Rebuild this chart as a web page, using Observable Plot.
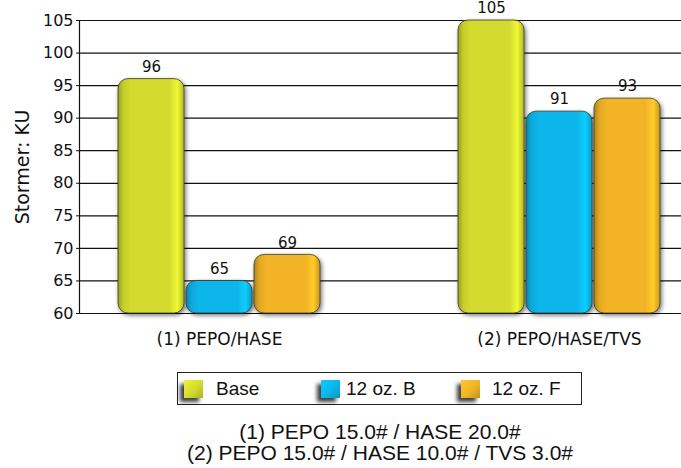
<!DOCTYPE html>
<html>
<head>
<meta charset="utf-8">
<script src="https://cdn.jsdelivr.net/npm/d3@7"></script>
<script src="https://cdn.jsdelivr.net/npm/@observablehq/plot@0.6"></script>
<style>
  html, body { margin: 0; padding: 0; background: #fff; }
  body { width: 681px; height: 468px; position: relative; overflow: hidden; font-family: "Liberation Sans", Arial, sans-serif; color: #111; }
  #chart { position: absolute; left: 0; top: 0; }
  .legend { position: absolute; left: 177px; top: 372px; width: 403px; height: 31px; border: 1.5px solid #222; box-sizing: content-box; }
  .item { position: absolute; top: 0; height: 31px; display: flex; align-items: center; font-size: 19px; }
  .sw { width: 19px; height: 18px; box-shadow: -4px 4px 4px rgba(0,0,0,0.75); }
  .caption { position: absolute; left: 180px; top: 421px; width: 400px; text-align: center; font-size: 21px; line-height: 21px; }
</style>
</head>
<body>
<div id="chart"></div>
<div class="legend" id="legend"></div>
<div class="caption" id="caption"></div>
<script>
const groups = ["(1) PEPO/HASE", "(2) PEPO/HASE/TVS"];
const series = ["Base", "12 oz. B", "12 oz. F"];
const base = [96, 105];
const oz12B = [65, 91];
const oz12F = [69, 93];
const colors = ["#d3dc2e", "#0cb6ea", "#f2b425"];
const yDomain = [60, 105];
const yTicks = [60, 65, 70, 75, 80, 85, 90, 95, 100, 105];
const captionLines = ["(1) PEPO 15.0# / HASE 20.0#", "(2) PEPO 15.0# / HASE 10.0# / TVS 3.0#"];

const values = [base, oz12B, oz12F];
const data = groups.flatMap((g, gi) => series.map((s, si) => ({
  group: g, series: s, value: values[si][gi], key: gi + "|" + s
})));
const gapSlots = ["gap a", "gap b"];
const xDomain = [...series.map(s => "0|" + s), ...gapSlots, ...series.map(s => "1|" + s)];
const gradIds = series.map((s, i) => "grad" + i);
const svgFont = "'DejaVu Sans', sans-serif";

const plot = Plot.plot({
  width: 681,
  height: 350,
  marginLeft: 79,
  marginRight: 0,
  marginTop: 20,
  marginBottom: 37,
  style: { fontFamily: svgFont, color: "#111", background: "transparent" },
  x: { type: "band", domain: xDomain, range: [118, 660], paddingInner: 0.03, paddingOuter: 0, axis: null },
  y: { domain: yDomain },
  color: { domain: series, range: gradIds.map(id => `url(#${id})`) },
  marks: [
    Plot.ruleY(yTicks, { stroke: "#111", strokeWidth: 1.2 }),
    Plot.axisY({ ticks: yTicks, tickSize: 3, tickPadding: 3, fontSize: 16, stroke: "#111", label: "Stormer: KU", labelAnchor: "center", labelOffset: 64, labelArrow: "none" }),
    Plot.frame({ anchor: "left", stroke: "#111", strokeWidth: 1.2 }),
    Plot.axisX({ ticks: ["0|12 oz. B", "1|12 oz. B"], tickFormat: k => groups[+k[0]], tickSize: 0, tickPadding: 19, fontSize: 17, label: null }),
    Plot.barY(data, { x: "key", y1: yDomain[0], y2: "value", fill: "series", rx: 10, stroke: "#3a3a2a", strokeWidth: 0.8 }),
    Plot.text(data, { x: "key", y: "value", text: d => String(d.value), dy: -12, fontSize: 15, fill: "#111" })
  ]
});

// y-axis title size
plot.querySelectorAll('g[aria-label="y-axis label"] text, g[aria-label="y-axis label"]').forEach(el => el.setAttribute("font-size", "19"));

// gradients and shadow
const ns = "http://www.w3.org/2000/svg";
const defs = document.createElementNS(ns, "defs");
colors.forEach((c, i) => {
  const g = document.createElementNS(ns, "linearGradient");
  g.setAttribute("id", gradIds[i]);
  g.setAttribute("x1", "0"); g.setAttribute("x2", "1"); g.setAttribute("y1", "0"); g.setAttribute("y2", "0");
  const stops = [
    [0, d3.color(c).darker(0.9)],
    [0.08, d3.color(c).darker(0.2)],
    [0.2, d3.color(c)],
    [0.78, d3.color(c)],
    [0.9, d3.color(c).brighter(0.35)],
    [1, d3.color(c).darker(0.5)]
  ];
  stops.forEach(([o, col]) => {
    const st = document.createElementNS(ns, "stop");
    st.setAttribute("offset", o);
    st.setAttribute("stop-color", col.formatHex());
    g.appendChild(st);
  });
  defs.appendChild(g);
});
const filt = document.createElementNS(ns, "filter");
filt.setAttribute("id", "shadow");
filt.setAttribute("x", "-20%"); filt.setAttribute("y", "-10%"); filt.setAttribute("width", "140%"); filt.setAttribute("height", "120%");
const ds = document.createElementNS(ns, "feDropShadow");
ds.setAttribute("dx", "1.5"); ds.setAttribute("dy", "2"); ds.setAttribute("stdDeviation", "2");
ds.setAttribute("flood-color", "#000"); ds.setAttribute("flood-opacity", "0.55");
filt.appendChild(ds);
defs.appendChild(filt);
plot.insertBefore(defs, plot.firstChild);
const barG = plot.querySelector('g[aria-label="bar"]');
if (barG) barG.setAttribute("filter", "url(#shadow)");
document.getElementById("chart").appendChild(plot);

// legend
const legend = document.getElementById("legend");
const itemLeft = [6, 143, 283];
const textGap = [13, 6, 12];
series.forEach((s, i) => {
  const it = document.createElement("div");
  it.className = "item";
  it.style.left = itemLeft[i] + "px";
  const sw = document.createElement("span");
  sw.className = "sw";
  sw.style.marginRight = textGap[i] + "px";
  const c = d3.color(colors[i]);
  sw.style.background = `linear-gradient(135deg, ${c.brighter(0.3).formatHex()} 0%, ${c.formatHex()} 55%, ${c.darker(0.6).formatHex()} 100%)`;
  it.appendChild(sw);
  const t = document.createElement("span");
  t.textContent = s;
  it.appendChild(t);
  legend.appendChild(it);
});
const cap = document.getElementById("caption");
captionLines.forEach(l => { const d = document.createElement("div"); d.textContent = l; cap.appendChild(d); });
</script>
</body>
</html>
